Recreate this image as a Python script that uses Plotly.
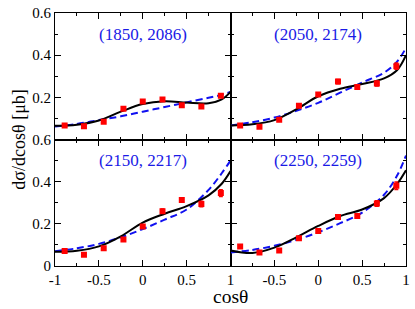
import plotly.graph_objects as go

# ---- data ----
cos_pts = [-0.89, -0.67, -0.445, -0.22, 0.0, 0.225, 0.445, 0.668, 0.89]
labels = ["(1850, 2086)", "(2050, 2174)", "(2150, 2217)", "(2250, 2259)"]

data_1850 = [0.066, 0.063, 0.084, 0.146, 0.180, 0.190, 0.163, 0.157, 0.208]
err_1850 = [0.005, 0.005, 0.006, 0.006, 0.007, 0.007, 0.007, 0.008, 0.008]
data_2050 = [0.066, 0.060, 0.094, 0.160, 0.214, 0.275, 0.249, 0.266, 0.348]
err_2050 = [0.005, 0.005, 0.006, 0.007, 0.008, 0.010, 0.009, 0.012, 0.015]
data_2150 = [0.071, 0.053, 0.084, 0.126, 0.187, 0.260, 0.313, 0.294, 0.346]
err_2150 = [0.005, 0.005, 0.006, 0.007, 0.008, 0.010, 0.011, 0.013, 0.016]
data_2250 = [0.093, 0.064, 0.073, 0.132, 0.166, 0.233, 0.237, 0.296, 0.381]
err_2250 = [0.005, 0.005, 0.006, 0.007, 0.008, 0.009, 0.010, 0.013, 0.018]

curve_x = [-1.0, -0.75, -0.5, -0.25, 0.0, 0.25, 0.5, 0.75, 0.9, 1.0]
solid_1850 = [0.065, 0.070, 0.090, 0.132, 0.168, 0.181, 0.175, 0.172, 0.190, 0.226]
dash_1850 = [0.062, 0.074, 0.092, 0.110, 0.132, 0.154, 0.176, 0.198, 0.212, 0.226]
solid_2050 = [0.066, 0.072, 0.092, 0.143, 0.205, 0.241, 0.263, 0.290, 0.330, 0.400]
dash_2050 = [0.066, 0.082, 0.104, 0.136, 0.174, 0.222, 0.270, 0.317, 0.370, 0.435]
solid_2150 = [0.067, 0.072, 0.093, 0.141, 0.206, 0.248, 0.284, 0.335, 0.390, 0.450]
dash_2150 = [0.070, 0.084, 0.105, 0.136, 0.175, 0.220, 0.268, 0.361, 0.440, 0.500]
solid_2250 = [0.074, 0.062, 0.087, 0.136, 0.190, 0.237, 0.268, 0.322, 0.390, 0.454]
dash_2250 = [0.064, 0.076, 0.096, 0.124, 0.160, 0.203, 0.253, 0.338, 0.430, 0.524]

x_ticks = [-1, -0.5, 0, 0.5, 1]
y_ticks = [0, 0.2, 0.4, 0.6]

panels = [
    (data_1850, err_1850, solid_1850, dash_1850, "x", "y"),
    (data_2050, err_2050, solid_2050, dash_2050, "x2", "y2"),
    (data_2150, err_2150, solid_2150, dash_2150, "x3", "y3"),
    (data_2250, err_2250, solid_2250, dash_2250, "x4", "y4"),
]

fig = go.Figure()
for d, e, s, b, xa, ya in panels:
    fig.add_trace(go.Scatter(x=curve_x, y=b, mode="lines", line=dict(color="#1010f0", width=2, dash="7px,4px", shape="spline"), xaxis=xa, yaxis=ya, showlegend=False, cliponaxis=False))
    fig.add_trace(go.Scatter(x=curve_x, y=s, mode="lines", line=dict(color="black", width=2, shape="spline"), xaxis=xa, yaxis=ya, showlegend=False, cliponaxis=False))
    fig.add_trace(go.Scatter(x=cos_pts, y=d, mode="markers", marker=dict(color="red", size=6, symbol="square"),
                             error_y=dict(type="data", array=e, color="red", thickness=1.5, width=2),
                             xaxis=xa, yaxis=ya, showlegend=False))

serif = "Liberation Serif, Times New Roman, Times, serif"
xdom = [[0, 0.5], [0.5, 1], [0, 0.5], [0.5, 1]]
ydom = [[0.5, 1], [0.5, 1], [0, 0.5], [0, 0.5]]
layout = {}
for i in range(4):
    sfx = "" if i == 0 else str(i + 1)
    xt = ["-1", "-0.5", "0", "0.5", "1"]
    if i == 3:
        xt = ["", "-0.5", "0", "0.5", "1"]
    yt = ["0", "0.2", "0.4", "0.6"]
    if i == 0:
        yt = ["", "0.2", "0.4", "0.6"]
    layout["xaxis" + sfx] = dict(domain=xdom[i], range=[-1, 1], anchor="y" + sfx, tickmode="array", tickvals=x_ticks,
                                 ticktext=xt, showticklabels=(i >= 2), ticks="inside", ticklen=6, tickcolor="black",
                                 minor=dict(ticks="inside", ticklen=3, dtick=0.25, tickcolor="black"),
                                 showline=True, linecolor="black", linewidth=1, mirror="allticks", showgrid=False,
                                 zeroline=False, tickfont=dict(family=serif, size=15, color="black"))
    layout["yaxis" + sfx] = dict(domain=ydom[i], range=[0, 0.6], anchor="x" + sfx, tickmode="array", tickvals=y_ticks,
                                 ticktext=yt, showticklabels=(i % 2 == 0), ticks="inside", ticklen=6, tickcolor="black",
                                 minor=dict(ticks="inside", ticklen=3, dtick=0.1, tickcolor="black"),
                                 showline=True, linecolor="black", linewidth=1, mirror="allticks", showgrid=False,
                                 zeroline=False, tickfont=dict(family=serif, size=15, color="black"))

annots = []
for i, lab in enumerate(labels):
    sfx = "" if i == 0 else str(i + 1)
    annots.append(dict(x=0, y=0.5, xref="x" + sfx, yref="y" + sfx, text=lab, showarrow=False,
                       font=dict(family=serif, size=17, color="#1a1ae6")))
annots.append(dict(x=0.5, y=-0.166, xref="paper", yref="paper", text="cosθ", showarrow=False, yanchor="bottom",
                   borderpad=0, font=dict(family=serif, size=19.5, color="black")))
annots.append(dict(x=-0.105, y=0.5, xref="paper", yref="paper", text="dσ/dcosθ [μb]", showarrow=False, textangle=-90,
                   xanchor="center", yanchor="middle", font=dict(family=serif, size=18, color="black")))

fig.update_layout(width=415, height=309, margin=dict(l=55, r=5, t=7, b=43), plot_bgcolor="white",
                  paper_bgcolor="white", annotations=annots, font=dict(family=serif), **layout)
fig.write_html("out.html", config={"displayModeBar": False},
               post_script="document.body.style.margin='0';document.body.style.overflow='hidden';")
